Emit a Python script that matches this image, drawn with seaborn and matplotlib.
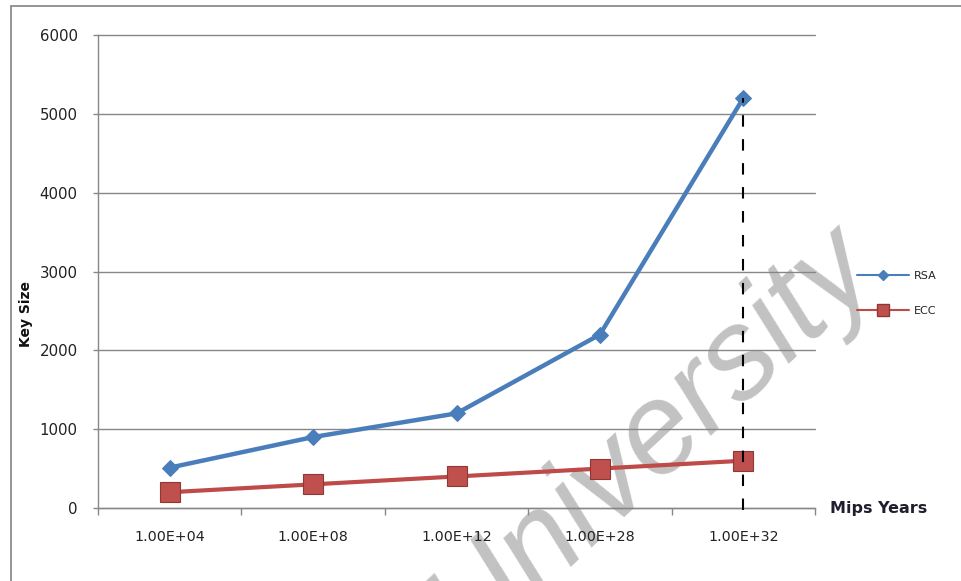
import numpy as np
import pandas as pd
import matplotlib
matplotlib.use("Agg")
import matplotlib.pyplot as plt
import seaborn as sns
from matplotlib.lines import Line2D
from matplotlib.patches import Rectangle

# Key sizes needed for equal security against attack effort (MIPS years)
mips_years = ["1.00E+04", "1.00E+08", "1.00E+12", "1.00E+28", "1.00E+32"]
rsa_key_size = [512, 900, 1200, 2200, 5200]
ecc_key_size = [200, 300, 400, 500, 600]
y_ticks = [0, 1000, 2000, 3000, 4000, 5000, 6000]

RSA_BLUE = "#4A7EBB"
ECC_RED = "#BE4B48"
ECC_EDGE = "#8E3835"
GRID_GREY = "#878787"
MARK_GREY = "#c2c2c2"

sns.set_theme(style="white")
plt.rcParams["font.family"] = ["DejaVu Sans"]

df = pd.DataFrame({
    "pos": np.arange(len(mips_years)),
    "Mips Years": mips_years,
    "RSA": rsa_key_size,
    "ECC": ecc_key_size,
})

fig = plt.figure(figsize=(9.61, 5.81), dpi=100)
ax = fig.add_axes([98 / 961, 73 / 581, 717 / 961, 473 / 581])

sns.lineplot(data=df, x="pos", y="ECC", ax=ax, color=ECC_RED, linewidth=3.0,
             marker="s", markersize=14, markerfacecolor="#C0504D",
             markeredgecolor=ECC_EDGE, markeredgewidth=0.8, zorder=3)
sns.lineplot(data=df, x="pos", y="RSA", ax=ax, color=RSA_BLUE, linewidth=3.2,
             marker="D", markersize=8.5, markerfacecolor=RSA_BLUE,
             markeredgecolor=RSA_BLUE, zorder=4)

# dashed drop line from the largest RSA key down to the axis
last = df.iloc[-1]
ax.vlines(last["pos"], -25, last["RSA"], colors="black", linewidth=1.5,
          linestyles=(0, (5.5, 6)), zorder=5, clip_on=False)

ax.set_xlim(-0.5, len(mips_years) - 0.5)
ax.set_ylim(0, 6000)

# category boundaries carry the tick marks, labels sit between them
ax.set_xticks(np.arange(-0.5, len(mips_years), 1.0))
ax.set_xticklabels([])
ax.set_xticks(df["pos"], labels=mips_years, minor=True)
ax.tick_params(axis="x", which="major", length=5, width=1.0, color=GRID_GREY,
               direction="out", bottom=True)
ax.tick_params(axis="x", which="minor", length=0, pad=16, labelsize=10.3,
               labelcolor="#222222")
ax.set_yticks(y_ticks, labels=[str(v) for v in y_ticks])
ax.tick_params(axis="y", length=3.6, width=1.0, color=GRID_GREY, direction="out",
               left=True, pad=11, labelsize=10.8, labelcolor="#222222")

ax.set_axisbelow(True)
ax.yaxis.grid(True, color=GRID_GREY, linewidth=1.0)
ax.xaxis.grid(False)
for gl in ax.get_ygridlines():
    gl.set_clip_on(False)

for side in ("top", "right"):
    ax.spines[side].set_visible(False)
for side in ("left", "bottom"):
    ax.spines[side].set_color(GRID_GREY)
    ax.spines[side].set_linewidth(1.0)

ax.set_ylabel("Key Size", fontsize=10, fontweight="bold", color="#111111")
ax.yaxis.set_label_coords(-0.09, 0.41)
ax.set_xlabel("Mips Years", fontsize=11.5, fontweight="bold", color="#1e1e2e")
ax.xaxis.label.set_ha("left")
ax.xaxis.label.set_va("center")
ax.xaxis.set_label_coords(1.021, 0.0)

handles = [
    Line2D([], [], color=RSA_BLUE, linewidth=1.5, marker="D", markersize=5.5,
           markerfacecolor=RSA_BLUE, markeredgecolor=RSA_BLUE),
    Line2D([], [], color=ECC_RED, linewidth=1.5, marker="s", markersize=8.5,
           markerfacecolor="#C0504D", markeredgecolor=ECC_EDGE),
]
ax.legend(handles, ["RSA", "ECC"], loc="center left",
          bbox_to_anchor=(857 / 961, 1 - 293.5 / 581),
          bbox_transform=fig.transFigure, frameon=False, fontsize=8,
          handlelength=4.7, handletextpad=0.45, labelspacing=2.3,
          borderpad=0, borderaxespad=0, labelcolor="#222222")

# background watermark, beneath the grid and the series
ax.text(652 / 961, 1 - 438 / 581, "University", transform=fig.transFigure,
        fontsize=92, family="Liberation Sans", style="italic",
        color=MARK_GREY, rotation=43, rotation_mode="anchor",
        ha="center", va="center", zorder=0.3, clip_on=False)

# chart area border
fig.add_artist(Rectangle((11 / 961, -0.05), 1.0, 1 - 6 / 581 + 0.05,
                         transform=fig.transFigure, fill=False,
                         edgecolor="#8c8c8c", linewidth=1.3))

fig.savefig("out.png", dpi=100)
